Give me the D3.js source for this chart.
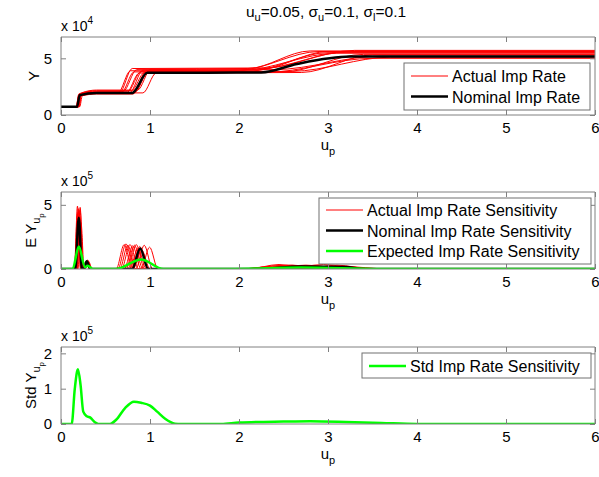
<!DOCTYPE html>
<html>
<head>
<meta charset="utf-8">
<script src="https://cdn.jsdelivr.net/npm/d3@7"></script>
<style>
  body { margin: 0; background: #fff; }
  text { font-family: "Liberation Sans", Arial, Helvetica, sans-serif; fill: #000; }
</style>
</head>
<body>
<div id="chart"></div>
<script>
// Data (top panel in 1e4 units, lower panels in 1e5 units)
const xTicks = [0, 1, 2, 3, 4, 5, 6]
const topYTicks = [0, 5]
const midYTicks = [0, 5]
const botYTicks = [0, 1, 2]

const actualRate = [
  [[0,0.73],[0.17,0.73],[0.2,1.75],[0.4,1.95],[0.64,1.95],[0.78,3.9],[2.0,3.95],[2.9,5.6],[6,5.6]],
  [[0,0.73],[0.18,0.73],[0.21,1.8],[0.4,2.0],[0.68,2.0],[0.82,3.8],[2.1,3.85],[3.0,5.5],[6,5.5]],
  [[0,0.73],[0.18,0.73],[0.21,1.9],[0.4,2.1],[0.7,2.1],[0.85,4.0],[2.2,4.05],[3.3,5.7],[6,5.7]],
  [[0,0.73],[0.19,0.73],[0.22,1.7],[0.4,1.9],[0.73,1.9],[0.88,3.7],[2.3,3.75],[3.5,5.0],[6,5.0]],
  [[0,0.73],[0.19,0.73],[0.22,1.85],[0.4,2.05],[0.75,2.05],[0.9,3.85],[2.0,3.9],[3.1,5.45],[6,5.45]],
  [[0,0.73],[0.2,0.73],[0.23,1.75],[0.4,1.95],[0.77,1.95],[0.92,3.95],[2.4,4.0],[3.6,5.2],[6,5.2]],
  [[0,0.73],[0.2,0.73],[0.23,1.9],[0.4,2.15],[0.79,2.15],[0.94,3.75],[2.5,3.8],[3.4,5.35],[6,5.35]],
  [[0,0.73],[0.21,0.73],[0.24,1.7],[0.4,1.85],[0.81,1.85],[0.96,3.9],[2.2,3.95],[3.0,5.6],[6,5.6]],
  [[0,0.73],[0.18,0.73],[0.21,1.8],[0.4,2.0],[0.83,2.0],[0.98,3.8],[2.6,3.85],[3.7,5.1],[6,5.1]],
  [[0,0.73],[0.2,0.73],[0.23,1.95],[0.4,2.2],[0.86,2.2],[1.01,4.05],[2.1,4.1],[2.8,5.65],[6,5.65]],
  [[0,0.73],[0.19,0.73],[0.22,1.75],[0.4,1.95],[0.92,1.95],[1.07,3.7],[2.7,3.75],[3.5,5.3],[6,5.3]],
  [[0,0.73],[0.17,0.73],[0.2,1.85],[0.4,2.0],[0.66,2.0],[0.8,4.1],[2.3,4.15],[3.2,5.55],[6,5.55]]
]
const nominalRate = [[0,0.73],[0.18,0.73],[0.21,1.75],[0.4,1.95],[0.8,1.95],[0.97,3.72],[2.25,3.75],[2.65,4.5],[3.25,5.15],[6,5.15]]

const actualSens = [
  [[0,0],[0.15,0],[0.185,4.9],[0.22,0],[0.26,0.1],[0.29,0.5],[0.32,0],[0.62,0],[0.71,1.9],[0.8,0],[2.0,0],[2.45,0.25],[2.9,0],[6,0]],
  [[0,0],[0.16,0],[0.195,4.5],[0.23,0],[0.26,0.1],[0.29,0.6],[0.33,0],[0.66,0],[0.75,1.85],[0.84,0],[2.1,0],[2.55,0.2],[3.0,0],[6,0]],
  [[0,0],[0.16,0],[0.195,4.7],[0.23,0],[0.27,0.1],[0.3,0.4],[0.34,0],[0.68,0],[0.775,1.9],[0.87,0],[2.2,0],[2.75,0.3],[3.3,0],[6,0]],
  [[0,0],[0.17,0],[0.205,3.8],[0.24,0],[0.27,0.1],[0.3,0.7],[0.34,0],[0.71,0],[0.805,1.8],[0.9,0],[2.3,0],[2.9,0.2],[3.5,0],[6,0]],
  [[0,0],[0.17,0],[0.205,4.2],[0.24,0],[0.26,0.1],[0.29,0.5],[0.33,0],[0.73,0],[0.825,1.85],[0.92,0],[2.0,0],[2.55,0.3],[3.1,0],[6,0]],
  [[0,0],[0.18,0],[0.215,4.6],[0.25,0],[0.27,0.1],[0.3,0.5],[0.34,0],[0.75,0],[0.845,1.9],[0.94,0],[2.4,0],[3.0,0.2],[3.6,0],[6,0]],
  [[0,0],[0.18,0],[0.215,4.0],[0.25,0],[0.28,0.1],[0.31,0.6],[0.35,0],[0.77,0],[0.865,1.6],[0.96,0],[2.5,0],[2.95,0.35],[3.4,0],[6,0]],
  [[0,0],[0.19,0],[0.225,3.6],[0.26,0],[0.28,0.1],[0.31,0.4],[0.35,0],[0.79,0],[0.885,1.75],[0.98,0],[2.2,0],[2.6,0.3],[3.0,0],[6,0]],
  [[0,0],[0.16,0],[0.195,4.4],[0.23,0],[0.26,0.1],[0.29,0.5],[0.33,0],[0.81,0],[0.905,1.5],[1.0,0],[2.6,0],[3.15,0.2],[3.7,0],[6,0]],
  [[0,0],[0.18,0],[0.215,4.8],[0.25,0],[0.27,0.1],[0.3,0.6],[0.34,0],[0.84,0],[0.935,1.85],[1.03,0],[2.1,0],[2.45,0.35],[2.8,0],[6,0]],
  [[0,0],[0.17,0],[0.205,3.9],[0.24,0],[0.27,0.1],[0.3,0.5],[0.34,0],[0.9,0],[0.995,1.7],[1.09,0],[2.7,0],[3.1,0.3],[3.5,0],[6,0]],
  [[0,0],[0.15,0],[0.185,4.3],[0.22,0],[0.25,0.1],[0.28,0.6],[0.32,0],[0.64,0],[0.73,1.95],[0.82,0],[2.3,0],[2.75,0.25],[3.2,0],[6,0]]
]
const nominalSens = [[0,0],[0.16,0],[0.2,4.0],[0.235,0],[0.26,0.05],[0.29,0.6],[0.33,0],[0.8,0],[0.89,1.6],[0.98,0],[2.2,0],[2.7,0.2],[3.2,0.15],[3.4,0],[6,0]]
const expectedSens = [[0,0],[0.13,0],[0.2,1.75],[0.27,0.15],[0.3,0.25],[0.36,0],[0.62,0],[0.9,0.75],[1.15,0],[1.9,0],[2.7,0.12],[3.6,0],[6,0]]

const stdSens = [[0,0],[0.12,0],[0.155,1.0],[0.19,1.55],[0.22,1.1],[0.25,0.35],[0.29,0.22],[0.33,0.18],[0.38,0.05],[0.42,0],[0.55,0],[0.62,0.12],[0.72,0.45],[0.82,0.63],[0.9,0.6],[1.0,0.52],[1.08,0.35],[1.17,0.15],[1.28,0.01],[1.35,0],[1.8,0],[2.0,0.04],[2.5,0.07],[2.8,0.08],[3.2,0.06],[3.6,0.03],[4.0,0],[6,0]]

// Dimensions
const width = 599
const height = 477
const left = 61
const right = 595

const svg = d3.select('#chart')
  .append('svg')
  .attr('width', width)
  .attr('height', height)

const xScale = d3.scaleLinear().domain([0, 6]).range([left, right])

const lineGen = y => d3.line()
  .x(d => xScale(d[0]))
  .y(d => y(d[1]))
  .curve(d3.curveMonotoneX)

function drawPanel(p) {
  const yScale = d3.scaleLinear().domain([0, p.ymax]).range([p.bottom, p.top])
  const g = svg.append('g')

  g.append('clipPath').attr('id', p.id)
    .append('rect')
    .attr('x', left).attr('y', p.top)
    .attr('width', right - left).attr('height', p.bottom - p.top)

  const plot = g.append('g').attr('clip-path', `url(#${p.id})`)
  p.series.forEach(s => {
    s.data.forEach(d => {
      plot.append('path')
        .datum(d)
        .attr('d', lineGen(yScale))
        .attr('fill', 'none')
        .attr('stroke', s.color)
        .attr('stroke-width', s.width)
    })
  })

  // axes (MATLAB style box with inward ticks)
  const axisColor = '#808080'
  const fmt = d3.format('d')
  const xb = g.append('g').attr('transform', `translate(0,${p.bottom})`)
    .call(d3.axisBottom(xScale).tickValues(xTicks).tickFormat(fmt).tickSizeInner(-5).tickSizeOuter(0).tickPadding(7))
  const xt = g.append('g').attr('transform', `translate(0,${p.top})`)
    .call(d3.axisTop(xScale).tickValues(xTicks).tickSizeInner(-5).tickSizeOuter(0).tickFormat(''))
  const yl = g.append('g').attr('transform', `translate(${left},0)`)
    .call(d3.axisLeft(yScale).tickValues(p.yTicks).tickFormat(fmt).tickSizeInner(-5).tickSizeOuter(0).tickPadding(9))
  const yr = g.append('g').attr('transform', `translate(${right},0)`)
    .call(d3.axisRight(yScale).tickValues(p.yTicks).tickSizeInner(-5).tickSizeOuter(0).tickFormat(''))
  ;[xb, xt, yl, yr].forEach(a => {
    a.select('.domain').attr('stroke', axisColor)
    a.selectAll('.tick line').attr('stroke', axisColor)
    a.selectAll('.tick text').attr('font-size', 15).attr('font-family', '"Liberation Sans", Arial, sans-serif').attr('fill', '#000')
  })
  xb.select('.domain').attr('d', `M${left},0H${right}`)
  xt.select('.domain').attr('d', `M${left},0H${right}`)
  yl.select('.domain').attr('d', `M0,${p.top}V${p.bottom}`)
  yr.select('.domain').attr('d', `M0,${p.top}V${p.bottom}`)

  // exponent label
  const ex = g.append('text').attr('x', left).attr('y', p.top - 6).attr('font-size', 14)
  ex.append('tspan').text('x 10')
  ex.append('tspan').attr('dy', -7).attr('font-size', 10).text(p.exp)

  // x label
  const xl = g.append('text').attr('x', (left + right) / 2).attr('y', p.bottom + 35)
    .attr('text-anchor', 'middle').attr('font-size', 15)
  xl.append('tspan').text('u')
  xl.append('tspan').attr('dy', 5).attr('font-size', 11).text('p')

  // y label
  const ylab = g.append('text')
    .attr('transform', `translate(${p.ylabX},${(p.top + p.bottom) / 2}) rotate(-90)`)
    .attr('text-anchor', 'middle').attr('font-size', 15)
  ylab.append('tspan').text(p.ylabel)
  if (p.ysub) {
    ylab.append('tspan').attr('dy', 4).attr('font-size', 11).text('u')
    ylab.append('tspan').attr('dy', 4).attr('font-size', 8).text('p')
  }

  // legend
  const lg = g.append('g')
  lg.append('rect')
    .attr('x', p.legend.x).attr('y', p.legend.y)
    .attr('width', p.legend.w).attr('height', p.legend.h)
    .attr('fill', '#fff').attr('stroke', '#707070').attr('stroke-width', 1)
  p.legend.items.forEach((it, i) => {
    const cy = p.legend.y + p.legend.row0 + i * 20.5
    lg.append('line')
      .attr('x1', p.legend.x + 7).attr('x2', p.legend.x + 44)
      .attr('y1', cy).attr('y2', cy)
      .attr('stroke', it.color).attr('stroke-width', it.width)
    lg.append('text')
      .attr('x', p.legend.x + 48).attr('y', cy + 6)
      .attr('font-size', 16)
      .text(it.label)
  })
}

drawPanel({
  id: 'c1', top: 37, bottom: 115, ymax: 6.88, yTicks: topYTicks, exp: '4',
  ylabel: 'Y', ysub: false, ylabX: 39,
  series: [
    { data: actualRate, color: '#ff0000', width: 1 },
    { data: [nominalRate], color: '#000', width: 2.5 }
  ],
  legend: { x: 404, y: 63, w: 186, h: 47, row0: 13,
    items: [
      { label: 'Actual Imp Rate', color: '#ff0000', width: 1 },
      { label: 'Nominal Imp Rate', color: '#000', width: 2.5 }
    ] }
})

drawPanel({
  id: 'c2', top: 192, bottom: 269, ymax: 6, yTicks: midYTicks, exp: '5',
  ylabel: 'E Y', ysub: true, ylabX: 36,
  series: [
    { data: actualSens, color: '#ff0000', width: 1 },
    { data: [nominalSens], color: '#000', width: 2.5 },
    { data: [expectedSens], color: '#00ff00', width: 2.5 }
  ],
  legend: { x: 319, y: 198, w: 272, h: 66, row0: 12,
    items: [
      { label: 'Actual Imp Rate Sensitivity', color: '#ff0000', width: 1 },
      { label: 'Nominal Imp Rate Sensitivity', color: '#000', width: 2.5 },
      { label: 'Expected Imp Rate Sensitivity', color: '#00ff00', width: 2.5 }
    ] }
})

drawPanel({
  id: 'c3', top: 347, bottom: 424, ymax: 2.18, yTicks: botYTicks, exp: '5',
  ylabel: 'Std Y', ysub: true, ylabX: 36,
  series: [
    { data: [stdSens], color: '#00ff00', width: 2.5 }
  ],
  legend: { x: 362, y: 353, w: 229, h: 25, row0: 13,
    items: [
      { label: 'Std Imp Rate Sensitivity', color: '#00ff00', width: 2.5 }
    ] }
})

// Title
const title = svg.append('text').attr('x', 326).attr('y', 17)
  .attr('text-anchor', 'middle').attr('font-size', 15.5)
title.append('tspan').text('u')
title.append('tspan').attr('dy', 4).attr('font-size', 11).text('u')
title.append('tspan').attr('dy', -4).text('=0.05, σ')
title.append('tspan').attr('dy', 4).attr('font-size', 11).text('u')
title.append('tspan').attr('dy', -4).text('=0.1, σ')
title.append('tspan').attr('dy', 4).attr('font-size', 11).text('l')
title.append('tspan').attr('dy', -4).text('=0.1')
</script>
</body>
</html>
